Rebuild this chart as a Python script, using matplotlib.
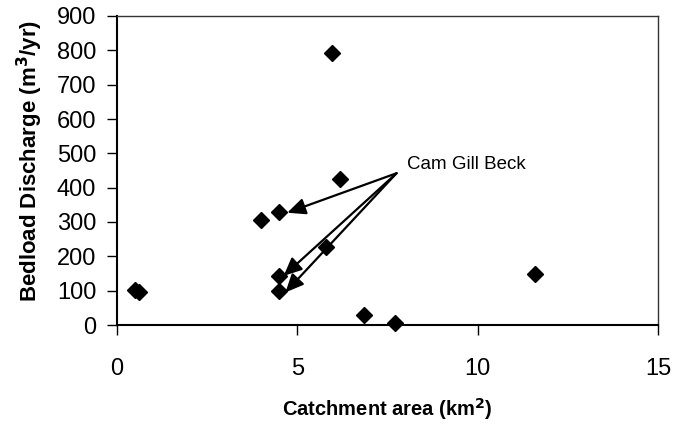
import matplotlib
matplotlib.use("Agg")
import matplotlib.pyplot as plt

plt.rcParams['font.family'] = ['Liberation Sans', 'DejaVu Sans']

# Data (catchment area km2, bedload discharge m3/yr)
area = [0.5, 0.62, 4.0, 4.5, 4.5, 4.5, 5.95, 6.17, 5.8, 6.85, 7.7, 11.6]
discharge = [102, 96, 307, 328, 144, 98, 793, 426, 228, 30, 7, 149]

label_text = "Cam Gill Beck"
label_pos = (8.03, 468)
arrow_origin = (7.75, 442)
arrow_tips = [(4.72, 327), (4.62, 143), (4.67, 95)]

xticks = [0, 5, 10, 15]
yticks = [0, 100, 200, 300, 400, 500, 600, 700, 800, 900]

fig = plt.figure(figsize=(6.74, 4.25), dpi=100)
ax = fig.add_axes([117/674, 1 - 325/425, (658 - 117)/674, (325 - 16)/425])

ax.plot(area, discharge, linestyle='none', marker='D', markersize=8,
        color='black', clip_on=False, zorder=3)

for tip in arrow_tips:
    ax.annotate('', xy=tip, xytext=arrow_origin,
                arrowprops=dict(arrowstyle='-|>,head_length=0.55,head_width=0.25',
                                color='black', lw=1.6,
                                mutation_scale=20, shrinkA=0, shrinkB=0))
ax.text(label_pos[0], label_pos[1], label_text, fontsize=13.5,
        ha='left', va='center')

ax.set_xlim(0, 15)
ax.set_ylim(0, 900)
ax.set_xticks(xticks)
ax.set_yticks(yticks)
ax.tick_params(axis='both', direction='out', length=7, width=1, labelsize=17)
ax.tick_params(axis='x', pad=17)
ax.tick_params(axis='y', pad=8)

for s in ['left', 'bottom']:
    ax.spines[s].set_linewidth(1.5)
for s in ['top', 'right']:
    ax.spines[s].set_linewidth(1.0)
    ax.spines[s].set_color('#333333')

ax.set_xlabel('Catchment area (km$^\\mathbf{2}$)', fontsize=14.5, fontweight='bold', labelpad=11)
ax.set_ylabel('Bedload Discharge (m$^\\mathbf{3}$/yr)', fontsize=16, fontweight='bold', labelpad=8)
ax.yaxis.set_label_coords(-0.133, 0.53)

fig.savefig('out.png', dpi=100)
